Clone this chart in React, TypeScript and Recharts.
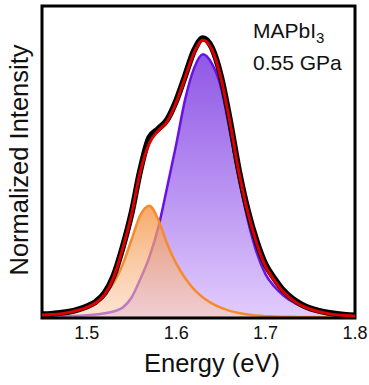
import React from "react"
import {
  ComposedChart,
  Area,
  Line,
  XAxis,
  YAxis,
  ReferenceArea,
  Customized,
} from "recharts"

// photon energy (eV)
const energy = [
  1.45, 1.46, 1.47, 1.48, 1.49, 1.5, 1.51, 1.52, 1.53, 1.54, 1.55, 1.56,
  1.57, 1.58, 1.59, 1.6, 1.61, 1.62, 1.63, 1.64, 1.65, 1.66, 1.67, 1.68,
  1.69, 1.7, 1.71, 1.72, 1.73, 1.74, 1.75, 1.76, 1.77, 1.78, 1.79, 1.8,
]

// measured PL (black)
const measured = [
  0.012, 0.013, 0.016, 0.02, 0.027, 0.037, 0.052, 0.08, 0.135, 0.225, 0.335,
  0.475, 0.578, 0.606, 0.636, 0.696, 0.776, 0.857, 0.897, 0.866, 0.776, 0.636,
  0.476, 0.346, 0.246, 0.171, 0.126, 0.088, 0.062, 0.044, 0.031, 0.023, 0.017,
  0.013, 0.01, 0.008,
]

// total fit (red)
const fit = [
  0.01, 0.011, 0.013, 0.018, 0.025, 0.034, 0.048, 0.075, 0.13, 0.22, 0.33,
  0.47, 0.56, 0.6, 0.63, 0.69, 0.77, 0.85, 0.89, 0.86, 0.77, 0.63, 0.47, 0.34,
  0.24, 0.165, 0.12, 0.083, 0.058, 0.04, 0.028, 0.02, 0.014, 0.01, 0.008,
  0.006,
]

// high energy component (purple)
const peakHigh = [
  0.003, 0.004, 0.005, 0.006, 0.007, 0.009, 0.011, 0.015, 0.021, 0.033,
  0.065, 0.125, 0.195, 0.29, 0.42, 0.555, 0.7, 0.8, 0.845, 0.815, 0.74, 0.6,
  0.45, 0.315, 0.21, 0.14, 0.1, 0.072, 0.052, 0.037, 0.026, 0.019, 0.014,
  0.01, 0.008, 0.006,
]

// low energy component (orange)
const peakLow = [
  0.008, 0.01, 0.014, 0.019, 0.026, 0.037, 0.053, 0.076, 0.112, 0.17, 0.25,
  0.33, 0.36, 0.315, 0.237, 0.175, 0.128, 0.092, 0.066, 0.047, 0.033, 0.023,
  0.016, 0.011, 0.008, 0.006, 0.005, 0.004, 0.004, 0.003, 0.003, 0.003, 0.002,
  0.002, 0.002, 0.002,
]

const xTicks = [1.5, 1.6, 1.7, 1.8]

const data = energy.map((e, i) => ({
  e,
  measured: measured[i],
  fit: fit[i],
  high: peakHigh[i],
  low: peakLow[i],
}))

const FONT = "'Liberation Sans', Arial, sans-serif"

function Labels() {
  return (
    <g fontFamily={FONT} fill="#111">
      <text x={253} y={38} fontSize={21}>
        MAPbI
        <tspan fontSize={15} dy={5}>3</tspan>
      </text>
      <text x={253} y={70} fontSize={21}>0.55 GPa</text>
      <text x={212} y={372} fontSize={25.5} textAnchor="middle">
        Energy (eV)
      </text>
      <text
        x={28}
        y={160}
        fontSize={25.5}
        textAnchor="middle"
        transform="rotate(-90, 28, 160)"
      >
        Normalized Intensity
      </text>
    </g>
  )
}

export default function App() {
  return (
    <div style={{ position: "absolute", left: 0, top: 0, background: "#fff" }}>
      <ComposedChart
        width={369}
        height={385}
        data={data}
        margin={{ top: 6, right: 14, bottom: 7, left: 42 }}
      >
        <defs>
          <linearGradient id="gHigh" x1="0" y1="0" x2="0" y2="1">
            <stop offset="0%" stopColor="#8a4fe4" stopOpacity={0.95} />
            <stop offset="100%" stopColor="#e2cdfd" stopOpacity={1} />
          </linearGradient>
          <linearGradient id="gLow" x1="0" y1="0" x2="0" y2="1">
            <stop offset="0%" stopColor="#f49444" stopOpacity={0.8} />
            <stop offset="100%" stopColor="#fbcfb0" stopOpacity={0.55} />
          </linearGradient>
        </defs>
        <XAxis
          dataKey="e"
          type="number"
          domain={[1.45, 1.8]}
          ticks={xTicks}
          interval={0}
          allowDataOverflow
          height={60}
          tickLine={false}
          axisLine={false}
          tick={{ fill: "#111", fontSize: 18, fontFamily: FONT }}
          tickFormatter={(v: number) => v.toFixed(1)}
        />
        <YAxis type="number" domain={[0, 1]} allowDataOverflow hide />
        <Area
          type="monotone"
          dataKey="high"
          stroke="#6a12e4"
          strokeWidth={2.5}
          fill="url(#gHigh)"
          fillOpacity={1}
          isAnimationActive={false}
        />
        <Area
          type="monotone"
          dataKey="low"
          stroke="#f78a2c"
          strokeWidth={2.5}
          fill="url(#gLow)"
          fillOpacity={1}
          isAnimationActive={false}
        />
        <Line
          type="monotone"
          dataKey="measured"
          stroke="#000"
          strokeWidth={6}
          dot={false}
          isAnimationActive={false}
        />
        <Line
          type="monotone"
          dataKey="fit"
          stroke="#dd0000"
          strokeWidth={3}
          dot={false}
          isAnimationActive={false}
        />
        <ReferenceArea
          x1={1.45}
          x2={1.8}
          y1={0}
          y2={1}
          fill="none"
          stroke="#000"
          strokeWidth={3}
          ifOverflow="visible"
        />
        <Customized component={Labels} />
      </ComposedChart>
    </div>
  )
}
